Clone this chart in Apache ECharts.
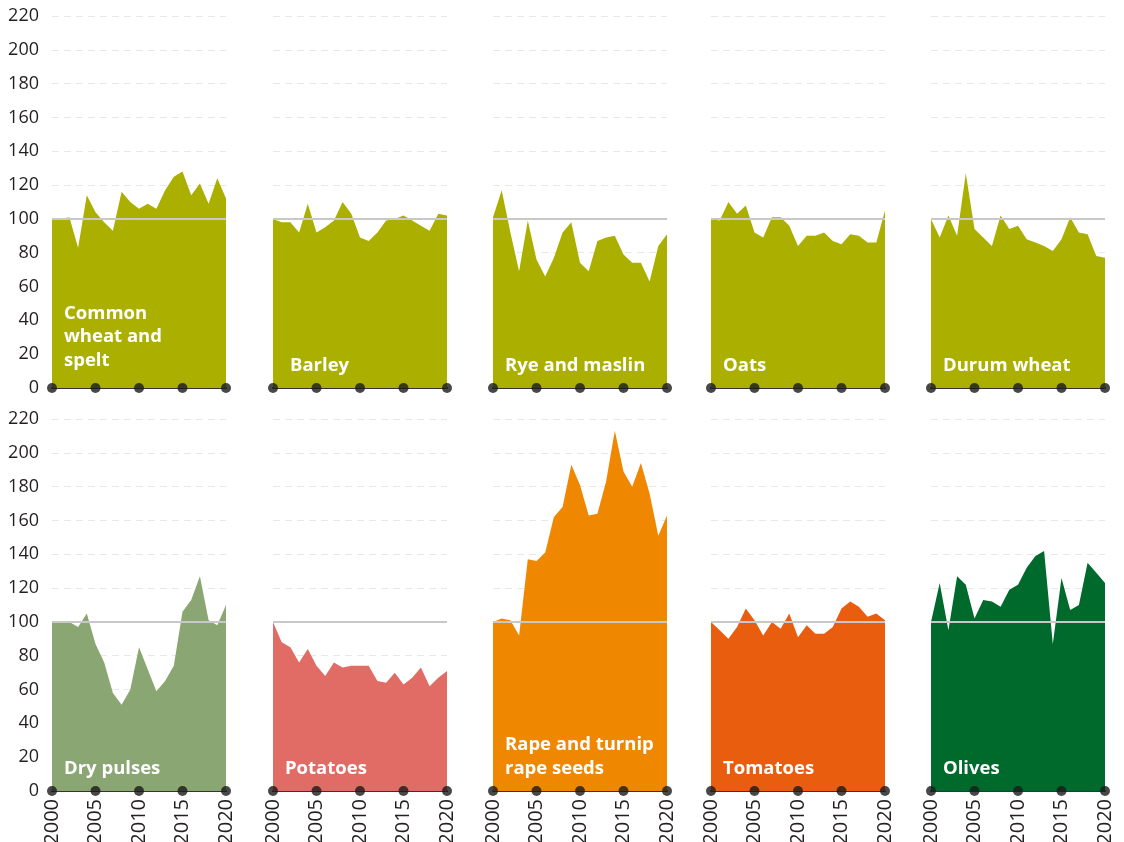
<!DOCTYPE html>
<html>
<head>
<meta charset="utf-8">
<script src="https://cdn.jsdelivr.net/npm/echarts@6/dist/echarts.min.js"></script>
<style>
html, body { margin: 0; padding: 0; background: #fff; }
#chart { width: 1124px; height: 842px; }
</style>
</head>
<body>
<div id="chart"></div>
<script>
// yearly index, 2000 = 100
const years = [2000, 2001, 2002, 2003, 2004, 2005, 2006, 2007, 2008, 2009, 2010,
  2011, 2012, 2013, 2014, 2015, 2016, 2017, 2018, 2019, 2020];
const dotYears = [2000, 2005, 2010, 2015, 2020];

const commonWheat = [100, 100, 101, 83, 114, 104, 98, 93, 116, 110, 106, 109, 106, 117, 125, 128, 114, 121, 109, 124, 112];
const barley = [100, 98, 98, 92, 109, 92, 95, 99, 110, 103, 89, 87, 92, 99, 100, 102, 99, 96, 93, 103, 102];
const ryeMaslin = [101, 117, 92, 69, 99, 76, 66, 77, 92, 98, 74, 69, 87, 89, 90, 79, 74, 74, 63, 84, 91];
const oats = [100, 99, 110, 103, 108, 92, 89, 101, 101, 96, 84, 90, 90, 92, 87, 85, 91, 90, 86, 86, 105];
const durumWheat = [100, 89, 102, 90, 127, 94, 89, 84, 102, 94, 96, 88, 86, 84, 81, 88, 101, 92, 91, 78, 77];
const dryPulses = [100, 100, 100, 97, 105, 87, 76, 58, 51, 60, 85, 72, 59, 65, 74, 106, 113, 127, 101, 98, 110];
const potatoes = [100, 88, 85, 76, 84, 74, 68, 76, 73, 74, 74, 74, 65, 64, 70, 63, 67, 73, 62, 67, 71];
const rapeSeeds = [100, 102, 101, 92, 137, 136, 141, 162, 168, 193, 181, 163, 164, 183, 213, 189, 180, 194, 176, 151, 163];
const tomatoes = [100, 95, 90, 97, 108, 101, 92, 100, 96, 105, 91, 98, 93, 93, 97, 108, 112, 109, 103, 105, 101];
const olives = [100, 123, 95, 127, 122, 102, 113, 112, 109, 119, 122, 132, 139, 142, 87, 126, 107, 110, 135, 129, 123];

const panels = [
  { name: 'Common\nwheat and\nspelt', data: commonWheat, color: '#abb000', dy: -5 },
  { name: 'Barley', data: barley, color: '#abb000', dx: 17 },
  { name: 'Rye and maslin', data: ryeMaslin, color: '#abb000' },
  { name: 'Oats', data: oats, color: '#abb000' },
  { name: 'Durum wheat', data: durumWheat, color: '#abb000' },
  { name: 'Dry pulses', data: dryPulses, color: '#8aa673' },
  { name: 'Potatoes', data: potatoes, color: '#e06c65' },
  { name: 'Rape and turnip\nrape seeds', data: rapeSeeds, color: '#f08700' },
  { name: 'Tomatoes', data: tomatoes, color: '#e95d0f' },
  { name: 'Olives', data: olives, color: '#006a2d' }
];

const FONT = '"Open Sans", "Noto Sans", sans-serif';
const colLeft = [52, 273, 493, 711, 931];
const rowTop = [16, 419];
const plotW = 174, plotH = 372;

const grid = [], xAxis = [], yAxis = [], series = [], graphic = [];

panels.forEach((p, i) => {
  const row = Math.floor(i / 5), col = i % 5;
  grid.push({ left: colLeft[col], top: rowTop[row], width: plotW, height: plotH, outerBoundsMode: 'none' });
  xAxis.push({
    gridIndex: i, type: 'value', min: 2000, max: 2020, interval: 5,
    axisLine: { show: true, lineStyle: { color: '#333', width: 2 } },
    axisTick: { show: false },
    splitLine: { show: false },
    axisLabel: {
      show: row === 1, rotate: 90, fontSize: 20, color: '#231f20', margin: 8, fontFamily: FONT,
      formatter: v => String(v)
    }
  });
  yAxis.push({
    gridIndex: i, type: 'value', min: 0, max: 220, interval: 20,
    axisLine: { show: false },
    axisTick: { show: false },
    splitLine: { show: true, lineStyle: { color: '#e8e8e8', width: 1, type: [7, 5] } },
    axisLabel: { show: col === 0, fontSize: 18, color: '#231f20', margin: 13, fontFamily: FONT }
  });
  series.push({
    type: 'line', xAxisIndex: i, yAxisIndex: i,
    data: years.map((y, k) => [y, p.data[k]]),
    symbol: 'none', silent: true,
    lineStyle: { width: 0 },
    areaStyle: { color: p.color, opacity: 1 },
    markLine: {
      silent: true, symbol: 'none', label: { show: false }, animation: false,
      lineStyle: { color: '#c8c8c8', width: 2, type: 'solid' },
      data: [{ yAxis: 100 }]
    }
  });
  series.push({
    type: 'scatter', xAxisIndex: i, yAxisIndex: i,
    data: dotYears.map(y => [y, 0]),
    symbolSize: 10, clip: false, z: 5,
    itemStyle: { color: '#1a1a1a' }
  });
  graphic.push({
    type: 'text',
    x: colLeft[col] + (p.dx || 12),
    y: (row === 0 ? 377 : 780) + (p.dy || 0),
    z: 100,
    silent: true,
    style: {
      text: p.name, fill: '#fff',
      font: 'bold 18.5px ' + FONT,
      lineHeight: 23.5,
      verticalAlign: 'bottom', textVerticalAlign: 'bottom'
    }
  });
});

const chart = echarts.init(document.getElementById('chart'));
chart.setOption({
  animation: false,
  grid, xAxis, yAxis, series, graphic
});
</script>
</body>
</html>
